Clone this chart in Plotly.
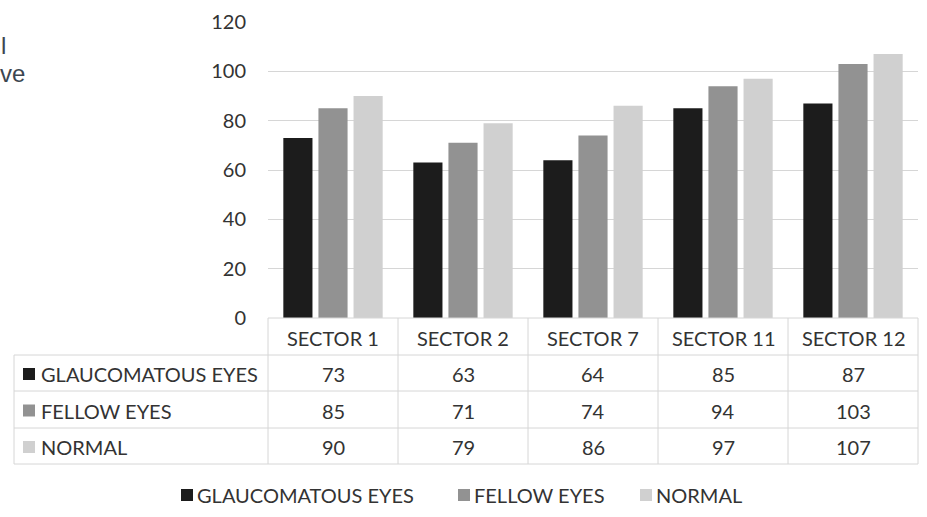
import plotly.graph_objects as go

categories = ["SECTOR 1", "SECTOR 2", "SECTOR 7", "SECTOR 11", "SECTOR 12"]
series_names = ["GLAUCOMATOUS EYES", "FELLOW EYES", "NORMAL"]
glaucomatous = [73, 63, 64, 85, 87]
fellow = [85, 71, 74, 94, 103]
normal = [90, 79, 86, 97, 107]
series_values = [glaucomatous, fellow, normal]
colors = ["#1c1c1c", "#929292", "#d0d0d0"]
y_ticks = [0, 20, 40, 60, 80, 100, 120]

W, H = 927, 517
FONT = "Lato"
FS = 20
TXT = "#333333"
LINE = "#d6d6d6"


def px(x):
    return x / W


def py(y):
    return 1 - y / H


# layout in pixels
PL, PR = 268, 918
PT, PB = 22, 318
ROWS = [355, 391, 428, 464]
TLEFT = 14
LEG_Y = 495
LEG_SQ_X = [181, 458, 640]

fig = go.Figure()
for name, vals, col in zip(series_names, series_values, colors):
    fig.add_trace(go.Bar(x=categories, y=vals, name=name, showlegend=False,
                         marker=dict(color=col, line=dict(width=0))))

shapes = []
ncol = len(categories)
colw = (PR - PL) / ncol
for i in range(ncol + 1):
    xx = PL + i * colw
    shapes.append(dict(type="line", xref="paper", yref="paper", x0=px(xx), x1=px(xx),
                       y0=py(PB), y1=py(ROWS[-1]), line=dict(color=LINE, width=1)))
shapes.append(dict(type="line", xref="paper", yref="paper", x0=px(TLEFT), x1=px(TLEFT),
                   y0=py(ROWS[0]), y1=py(ROWS[-1]), line=dict(color=LINE, width=1)))
for r in ROWS:
    shapes.append(dict(type="line", xref="paper", yref="paper", x0=px(TLEFT), x1=px(PR),
                       y0=py(r), y1=py(r), line=dict(color=LINE, width=1)))
shapes.append(dict(type="line", xref="paper", yref="paper", x0=px(PL), x1=px(PR),
                   y0=py(PB), y1=py(PB), line=dict(color=LINE, width=1)))

annotations = []
for c in categories:
    annotations.append(dict(x=c, xref="x", y=py((PB + ROWS[0]) / 2 + 1), yref="paper",
                            text=c, showarrow=False, font=dict(family=FONT, size=FS, color=TXT),
                            xanchor="center", yanchor="middle"))
for ri, (name, vals, col) in enumerate(zip(series_names, series_values, colors)):
    yc = (ROWS[ri] + ROWS[ri + 1]) / 2 + 1
    shapes.append(dict(type="rect", xref="paper", yref="paper", x0=px(23), x1=px(35),
                       y0=py(yc + 6), y1=py(yc - 6), fillcolor=col, line=dict(width=0)))
    annotations.append(dict(x=px(39), xref="paper", y=py(yc), yref="paper", text=name,
                            showarrow=False, xanchor="left", yanchor="middle",
                            font=dict(family=FONT, size=FS, color=TXT)))
    for c, v in zip(categories, vals):
        annotations.append(dict(x=c, xref="x", y=py(yc), yref="paper", text=str(v),
                                showarrow=False, xanchor="center", yanchor="middle",
                                font=dict(family=FONT, size=FS, color=TXT)))

# bottom legend
for name, col, sx in zip(series_names, colors, LEG_SQ_X):
    shapes.append(dict(type="rect", xref="paper", yref="paper", x0=px(sx), x1=px(sx + 12),
                       y0=py(LEG_Y + 6), y1=py(LEG_Y - 6), fillcolor=col, line=dict(width=0)))
    annotations.append(dict(x=px(sx + 14), xref="paper", y=py(LEG_Y), yref="paper", text=name,
                            showarrow=False, xanchor="left", yanchor="middle",
                            font=dict(family=FONT, size=FS, color=TXT)))

# cropped fragments of text at top-left
annotations.append(dict(x=px(-1), xref="paper", y=py(45), yref="paper", text="l", showarrow=False,
                        xanchor="left", yanchor="middle",
                        font=dict(family="Liberation Sans", size=24, color="#3c4650")))
annotations.append(dict(x=px(-2), xref="paper", y=py(74), yref="paper", text="ve", showarrow=False,
                        xanchor="left", yanchor="middle",
                        font=dict(family="Liberation Sans", size=24, color="#3c4650")))

fig.update_layout(
    width=W, height=H,
    margin=dict(l=0, r=0, t=0, b=0, autoexpand=False),
    paper_bgcolor="white", plot_bgcolor="white",
    barmode="group", bargap=0.19, bargroupgap=0.17,
    font=dict(family=FONT, size=FS, color=TXT),
    xaxis=dict(domain=[px(PL), px(PR)], showticklabels=False, showgrid=False,
               zeroline=False, showline=False, ticks="", automargin=False),
    yaxis=dict(domain=[py(PB), py(PT)], range=[0, 120], tickvals=y_ticks,
               showgrid=True, gridcolor=LINE, gridwidth=1, zeroline=False,
               showline=False, ticks="", ticklabelstandoff=21, automargin=False,
               tickfont=dict(family=FONT, size=FS, color=TXT)),
    showlegend=False,
    shapes=shapes, annotations=annotations,
)

fig.write_html("out.html")
